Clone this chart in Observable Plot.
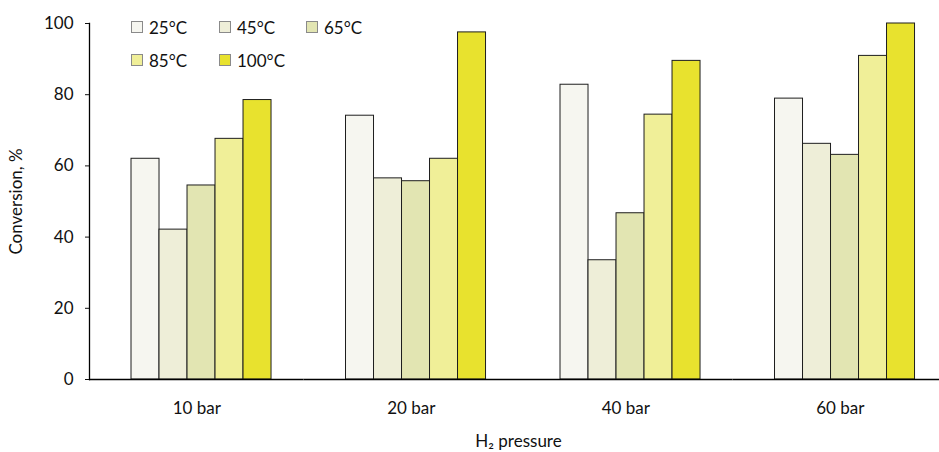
<!DOCTYPE html>
<html>
<head>
<meta charset="utf-8">
<script src="https://cdn.jsdelivr.net/npm/d3@7"></script>
<script src="https://cdn.jsdelivr.net/npm/@observablehq/plot@0.6"></script>
<style>
  body { margin: 0; background: #fff; font-family: Lato, "Open Sans", sans-serif; }
  #chart { position: relative; width: 939px; height: 452px; overflow: hidden; }
  #legend {
    position: absolute; left: 131px; top: 16px;
    display: grid; grid-template-columns: 88px 87px 80px; row-gap: 11px;
    font-size: 17px; color: #111;
  }
  .item { display: flex; align-items: center; height: 22px; white-space: nowrap; }
  .sw { width: 10px; height: 10px; border: 1px solid #8a8a8a; margin-right: 6px; }
</style>
</head>
<body>
<div id="chart"><div id="legend"></div></div>
<script>
// H2 pressure groups and reaction temperatures
const pressures = ["10 bar", "20 bar", "40 bar", "60 bar"];
const temperatures = ["25°C", "45°C", "65°C", "85°C", "100°C"];

// Conversion (%) per temperature, one value per pressure group
const conv25  = [62.0, 74.1, 82.8, 78.9];
const conv45  = [42.1, 56.5, 33.5, 66.2];
const conv65  = [54.5, 55.7, 46.7, 63.1];
const conv85  = [67.6, 62.0, 74.4, 90.9];
const conv100 = [78.5, 97.5, 89.5, 100.0];

const yTicks = [0, 20, 40, 60, 80, 100];
const colors = ["#f6f6f0", "#eeeed8", "#e2e5b2", "#f0ef98", "#e8e22e"];

const series = [conv25, conv45, conv65, conv85, conv100];
const rows = pressures.flatMap((p, i) =>
  temperatures.map((t, j) => ({pressure: p, temp: t, value: series[j][i]}))
);

const chart = Plot.plot({
  width: 939,
  height: 452,
  marginLeft: 89,
  marginRight: 0,
  marginTop: 23,
  marginBottom: 73,
  style: {fontFamily: "Lato, 'Open Sans', sans-serif", fontSize: "17px", color: "#111"},
  fx: {domain: pressures, range: [89, 947], padding: 0, round: false},
  x: {domain: temperatures, paddingInner: 0, paddingOuter: 1.33, align: 0.564, round: false, axis: null},
  y: {domain: [0, 100]},
  color: {domain: temperatures, range: colors},
  marks: [
    Plot.barY(rows, {
      fx: "pressure", x: "temp", y: "value",
      fill: "temp", stroke: "#1e1e1e", strokeWidth: 1
    }),
    Plot.ruleY([0], {stroke: "#000", strokeWidth: 1.3}),
    Plot.frame({anchor: "left", facetAnchor: "left", stroke: "#000", strokeWidth: 1.3}),
    Plot.axisY({
      ticks: yTicks, tickSize: 4, tickPadding: 12,
      label: "Conversion, %", labelAnchor: "center", labelArrow: "none", labelOffset: 80
    }),
    Plot.axisFx({
      anchor: "bottom", tickSize: 0, tickPadding: 22,
      label: "H₂ pressure", labelAnchor: "center", labelArrow: "none", labelOffset: 67
    })
  ]
});
document.getElementById("chart").prepend(chart);

// Legend: swatches in two rows over the top-left of the plot area
const legend = document.getElementById("legend");
temperatures.forEach((t, j) => {
  const item = document.createElement("div");
  item.className = "item";
  const sw = document.createElement("span");
  sw.className = "sw";
  sw.style.background = colors[j];
  item.append(sw, document.createTextNode(t));
  legend.append(item);
});
</script>
</body>
</html>
